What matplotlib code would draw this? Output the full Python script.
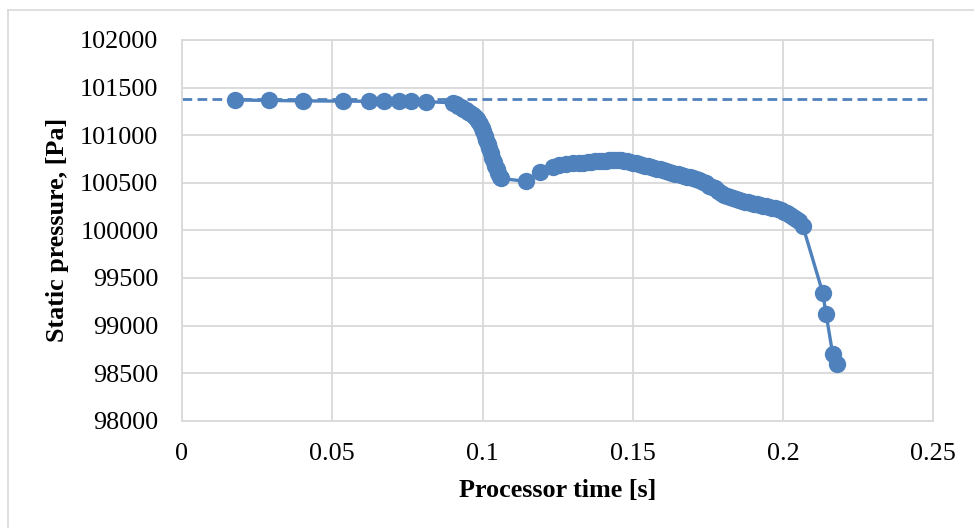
import matplotlib
matplotlib.use("Agg")
import matplotlib.pyplot as plt
from matplotlib.lines import Line2D

plt.rcParams['font.family'] = ['Liberation Serif', 'DejaVu Serif']

time_s = [
    0.0176, 0.0291, 0.0401, 0.0537, 0.0623, 0.0672, 0.0723, 0.0762, 0.0812,
    0.0903, 0.0912, 0.0920, 0.0928, 0.0936, 0.0944, 0.0952, 0.0960, 0.0967,
    0.0974, 0.0980, 0.0986, 0.0992, 0.0997, 0.1002, 0.1007, 0.1012, 0.1017,
    0.1022, 0.1027, 0.1032, 0.1037, 0.1042, 0.1047, 0.1052, 0.1057, 0.1062,
    0.1145, 0.1192, 0.1236, 0.1255, 0.1278, 0.1300, 0.1320, 0.1335, 0.1350,
    0.1362, 0.1374, 0.1386, 0.1398, 0.1410, 0.1421, 0.1432, 0.1442, 0.1452,
    0.1462, 0.1472, 0.1482, 0.1492, 0.1502, 0.1512, 0.1522, 0.1532, 0.1542,
    0.1552, 0.1562, 0.1572, 0.1582, 0.1592, 0.1602, 0.1612, 0.1622, 0.1632,
    0.1642, 0.1652, 0.1662, 0.1672, 0.1682, 0.1692, 0.1702, 0.1712, 0.1722,
    0.1732, 0.1742, 0.1752, 0.1762, 0.1772, 0.1782, 0.1792, 0.1802, 0.1812,
    0.1822, 0.1832, 0.1842, 0.1852, 0.1862, 0.1872, 0.1882, 0.1892, 0.1902,
    0.1912, 0.1922, 0.1932, 0.1942, 0.1952, 0.1962, 0.1972, 0.1982, 0.1992,
    0.2002, 0.2012, 0.2022, 0.2032, 0.2042, 0.2052, 0.2066,
    0.2132, 0.2143, 0.2165, 0.2178,
]
pressure_pa = [
    101370, 101365, 101360, 101358, 101356, 101355, 101355, 101354, 101352,
    101340, 101325, 101310, 101295, 101278, 101262, 101247, 101230, 101212,
    101192, 101170, 101145, 101115, 101080, 101040, 100995, 100950, 100905,
    100862, 100815, 100765, 100720, 100680, 100640, 100600, 100565, 100545,
    100515, 100610, 100668, 100690, 100700, 100706, 100710, 100712, 100716,
    100720, 100724, 100727, 100730, 100733, 100736, 100738, 100739, 100738,
    100734, 100730, 100724, 100718, 100712, 100704, 100696, 100688, 100680,
    100672, 100664, 100656, 100648, 100640, 100631, 100622, 100613, 100605,
    100597, 100589, 100581, 100573, 100565, 100557, 100548, 100538, 100526,
    100511, 100493, 100471, 100455, 100440, 100415, 100392, 100374, 100360,
    100348, 100337, 100327, 100318, 100310, 100303, 100296, 100289, 100282,
    100275, 100268, 100261, 100254, 100247, 100240, 100232, 100222, 100210,
    100195, 100178, 100160, 100140, 100118, 100094, 100045,
    99345, 99125, 98705, 98592,
]
reference_pa = 101375

x_ticks = [0, 0.05, 0.1, 0.15, 0.2, 0.25]
x_tick_labels = ['0', '0.05', '0.1', '0.15', '0.2', '0.25']
y_ticks = [98000, 98500, 99000, 99500, 100000, 100500, 101000, 101500, 102000]

blue = '#4f81bd'
grid_gray = '#d9d9d9'

fig = plt.figure(figsize=(9.74, 5.28), dpi=100)
ax = fig.add_axes([182 / 974, 1 - 420.7 / 528, (933.3 - 182) / 974, (420.7 - 40) / 528])

ax.axhline(reference_pa, color=blue, lw=2.0, dashes=(3.5, 1.9), zorder=2)
ax.plot(time_s, pressure_pa, color=blue, lw=2.4, marker='o', markersize=12.5,
        markeredgewidth=0, zorder=3)

ax.set_xlim(0, 0.25)
ax.set_ylim(98000, 102000)
ax.set_xticks(x_ticks)
ax.set_xticklabels(x_tick_labels)
ax.set_yticks(y_ticks)
ax.set_yticklabels([str(v) for v in y_ticks])
ax.grid(True, color=grid_gray, lw=1.3, zorder=0)
ax.set_axisbelow(True)
for s in ax.spines.values():
    s.set_color(grid_gray)
    s.set_linewidth(1.3)
ax.tick_params(length=0, labelsize=18.8, colors='black')
ax.tick_params(axis='y', pad=17)
ax.tick_params(axis='x', pad=16)

ax.set_xlabel('Processor time [s]', fontsize=18.8, fontweight='bold', labelpad=10)
ax.set_ylabel('Static pressure, [Pa]', fontsize=18.8, fontweight='bold', labelpad=8)

# chart area border
fig.add_artist(Line2D([8 / 974, 1.0], [1 - 10 / 528, 1 - 10 / 528], color=grid_gray, lw=1.2,
                      transform=fig.transFigure))
fig.add_artist(Line2D([8 / 974, 8 / 974], [0, 1 - 10 / 528], color=grid_gray, lw=1.2,
                      transform=fig.transFigure))

fig.savefig('out.png', dpi=100)
